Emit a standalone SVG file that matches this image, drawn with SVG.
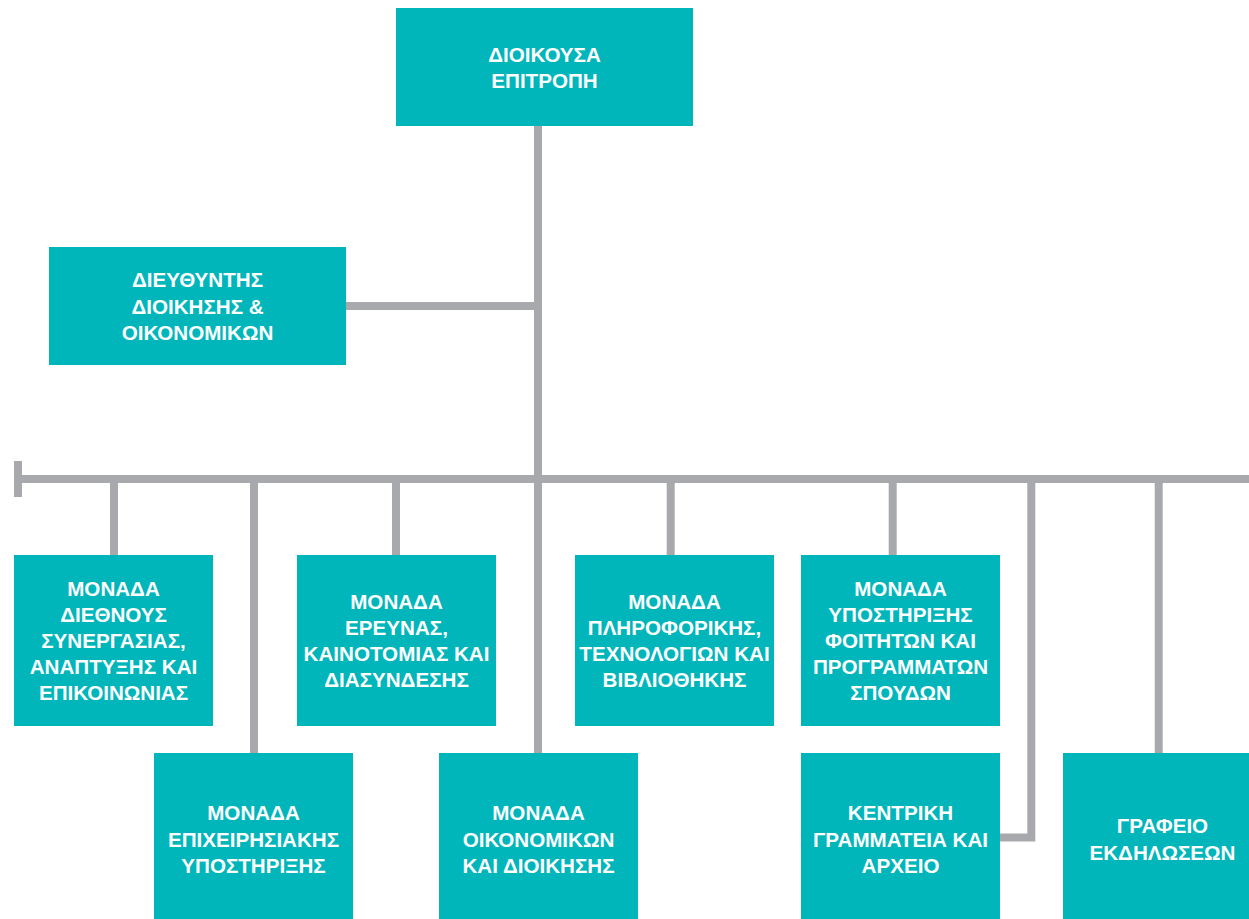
<svg xmlns="http://www.w3.org/2000/svg" width="1249" height="919" viewBox="0 0 1249 919">
<style>
.box{fill:#00B6BB}
.t{font-family:"Liberation Sans",Arial,sans-serif;font-weight:bold;font-size:20.6px;fill:#FFFFFF;text-anchor:middle}
.c{stroke:#A7A9AC;stroke-width:8;fill:none;stroke-linejoin:miter;stroke-linecap:butt}
</style>
<rect width="1249" height="919" fill="#FFFFFF"/>
<g id="connectors">
<line class="c" x1="538" y1="126" x2="538" y2="753"/>
<line class="c" x1="346" y1="306" x2="538" y2="306"/>
<line class="c" x1="18" y1="479" x2="1249" y2="479"/>
<rect x="14" y="461" width="8" height="36" fill="#A7A9AC"/>
<line class="c" x1="114" y1="479" x2="114" y2="555"/>
<line class="c" x1="254" y1="479" x2="254" y2="753"/>
<line class="c" x1="396" y1="479" x2="396" y2="555"/>
<line class="c" x1="670.7" y1="479" x2="670.7" y2="555"/>
<line class="c" x1="892.7" y1="479" x2="892.7" y2="555"/>
<polyline class="c" points="1031.3,479 1031.3,837.5 1000,837.5"/>
<line class="c" x1="1158.7" y1="479" x2="1158.7" y2="753"/>
</g>
<g id="node-top">
<rect class="box" x="396" y="8" width="297" height="118"/>
<text class="t" x="544.5" y="61.5">ΔΙΟΙΚΟΥΣΑ</text>
<text class="t" x="544.5" y="87.5">ΕΠΙΤΡΟΠΗ</text>
</g>
<g id="node-director">
<rect class="box" x="49" y="247" width="297" height="118"/>
<text class="t" x="197.5" y="287">ΔΙΕΥΘΥΝΤΗΣ</text>
<text class="t" x="197.5" y="313.5">ΔΙΟΙΚΗΣΗΣ &amp;</text>
<text class="t" x="197.5" y="340">ΟΙΚΟΝΟΜΙΚΩΝ</text>
</g>
<g id="node-international">
<rect class="box" x="14" y="555" width="199" height="171"/>
<text class="t" x="113.5" y="595.5">ΜΟΝΑΔΑ</text>
<text class="t" x="113.5" y="621.5">ΔΙΕΘΝΟΥΣ</text>
<text class="t" x="113.5" y="647.5">ΣΥΝΕΡΓΑΣΙΑΣ,</text>
<text class="t" x="113.5" y="673.5">ΑΝΑΠΤΥΞΗΣ ΚΑΙ</text>
<text class="t" x="113.5" y="699.5">ΕΠΙΚΟΙΝΩΝΙΑΣ</text>
</g>
<g id="node-research">
<rect class="box" x="297" y="555" width="199" height="171"/>
<text class="t" x="396.5" y="608.5">ΜΟΝΑΔΑ</text>
<text class="t" x="396.5" y="634.5">ΕΡΕΥΝΑΣ,</text>
<text class="t" x="396.5" y="660.5">ΚΑΙΝΟΤΟΜΙΑΣ ΚΑΙ</text>
<text class="t" x="396.5" y="686.5">ΔΙΑΣΥΝΔΕΣΗΣ</text>
</g>
<g id="node-it">
<rect class="box" x="575" y="555" width="199" height="171"/>
<text class="t" x="674.5" y="608.5">ΜΟΝΑΔΑ</text>
<text class="t" x="674.5" y="634.5">ΠΛΗΡΟΦΟΡΙΚΗΣ,</text>
<text class="t" x="674.5" y="660.5">ΤΕΧΝΟΛΟΓΙΩΝ ΚΑΙ</text>
<text class="t" x="674.5" y="686.5">ΒΙΒΛΙΟΘΗΚΗΣ</text>
</g>
<g id="node-students">
<rect class="box" x="801" y="555" width="199" height="171"/>
<text class="t" x="900.5" y="596">ΜΟΝΑΔΑ</text>
<text class="t" x="900.5" y="622">ΥΠΟΣΤΗΡΙΞΗΣ</text>
<text class="t" x="900.5" y="648">ΦΟΙΤΗΤΩΝ ΚΑΙ</text>
<text class="t" x="900.5" y="674">ΠΡΟΓΡΑΜΜΑΤΩΝ</text>
<text class="t" x="900.5" y="700">ΣΠΟΥΔΩΝ</text>
</g>
<g id="node-business">
<rect class="box" x="154" y="753" width="199" height="171"/>
<text class="t" x="253.5" y="820">ΜΟΝΑΔΑ</text>
<text class="t" x="253.5" y="846.5">ΕΠΙΧΕΙΡΗΣΙΑΚΗΣ</text>
<text class="t" x="253.5" y="873">ΥΠΟΣΤΗΡΙΞΗΣ</text>
</g>
<g id="node-finance">
<rect class="box" x="439" y="753" width="199" height="171"/>
<text class="t" x="538.5" y="820">ΜΟΝΑΔΑ</text>
<text class="t" x="538.5" y="846.5">ΟΙΚΟΝΟΜΙΚΩΝ</text>
<text class="t" x="538.5" y="873">ΚΑΙ ΔΙΟΙΚΗΣΗΣ</text>
</g>
<g id="node-secretariat">
<rect class="box" x="801" y="753" width="199" height="171"/>
<text class="t" x="900.5" y="820">ΚΕΝΤΡΙΚΗ</text>
<text class="t" x="900.5" y="846.5">ΓΡΑΜΜΑΤΕΙΑ ΚΑΙ</text>
<text class="t" x="900.5" y="873">ΑΡΧΕΙΟ</text>
</g>
<g id="node-events">
<rect class="box" x="1063" y="753" width="199" height="171"/>
<text class="t" x="1162.5" y="833">ΓΡΑΦΕΙΟ</text>
<text class="t" x="1162.5" y="859.5">ΕΚΔΗΛΩΣΕΩΝ</text>
</g>
</svg>
